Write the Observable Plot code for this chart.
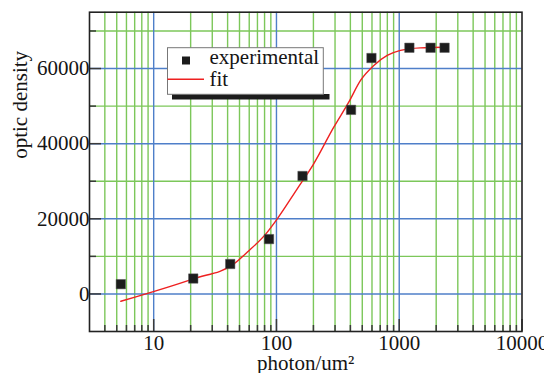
<!DOCTYPE html>
<html><head><meta charset="utf-8">
<script src="https://cdn.jsdelivr.net/npm/d3@7"></script>
<script src="https://cdn.jsdelivr.net/npm/@observablehq/plot@0.6"></script>
<style>
html,body{margin:0;padding:0;background:#fff;}
#chart svg{display:block;}
</style></head><body><div id="chart"></div>
<script>
// measured points (black squares)
const photon = [5.4, 21, 42, 87, 163, 405, 594, 1210, 1800, 2340];
const density = [2600, 4100, 7970, 14600, 31400, 49000, 62800, 65535, 65535, 65535];
// fit curve (red line)
const fitPhoton = [5.4, 21, 45, 58, 82, 101.5, 147.6, 201, 293, 388, 484, 621, 798, 1024, 1489, 2340];
const fitDensity = [-1940, 4020, 8000, 11160, 16000, 20000, 27990, 34650, 44390, 51050, 56830, 60820, 63490, 64820, 65500, 65650];
// axes
const xMajorTicks = [10, 100, 1000, 10000];
const xMinorTicks = [4,5,6,7,8,9, 20,30,40,50,60,70,80,90, 200,300,400,500,600,700,800,900, 2000,3000,4000,5000,6000,7000,8000,9000];
const yMajorTicks = [0, 20000, 40000, 60000];
const yMinorTicks = [10000, 30000, 50000, 70000];
const xDomain = [3, 10000];
const yDomain = [-10000, 75000];
const xLabel = "photon/um²";
const yLabel = "optic density";
const legendLabels = ["experimental", "fit"];

const green = "#7cc75a", blue = "#4f7fc9", tickCol = "#3a3a3a", ink = "#151515";
const serif = "Liberation Serif";
const points = photon.map((x, i) => ({x, y: density[i]}));
const fit = fitPhoton.map((x, i) => ({x, y: fitDensity[i]}));

const chart = Plot.plot({
  width: 544, height: 373,
  marginLeft: 89, marginRight: 22.5, marginTop: 11.7, marginBottom: 42,
  style: {fontFamily: serif, fontSize: "21px", background: "#fff", color: ink},
  x: {type: "log", domain: xDomain, axis: null},
  y: {domain: yDomain, axis: null},
  marks: [
    Plot.ruleX(xMinorTicks, {stroke: green, strokeWidth: 1.4}),
    Plot.ruleY(yMinorTicks, {stroke: green, strokeWidth: 1.4}),
    Plot.ruleX(xMajorTicks.slice(0, 3), {stroke: blue, strokeWidth: 1.4}),
    Plot.ruleY(yMajorTicks, {stroke: blue, strokeWidth: 1.4}),
    Plot.axisX(xMinorTicks, {tickSize: -6, stroke: tickCol, strokeWidth: 1.5, fill: "none", label: null}),
    Plot.axisX(xMajorTicks, {tickSize: -12, tickPadding: 16, stroke: tickCol, strokeWidth: 1.5, fill: ink, label: null, tickFormat: d => String(d)}),
    Plot.axisY(yMinorTicks, {tickSize: -7, stroke: tickCol, strokeWidth: 1.5, fill: "none", label: null}),
    Plot.axisY(yMajorTicks, {tickSize: -12, tickPadding: 12, stroke: tickCol, strokeWidth: 1.5, fill: ink, label: null, tickFormat: d => String(d)}),
    Plot.frame({stroke: "#222", strokeWidth: 1.6}),
    Plot.line(fit, {x: "x", y: "y", stroke: "#ee2020", strokeWidth: 1.4, curve: "monotone-x"}),
    Plot.dot(points, {x: "x", y: "y", symbol: "square", r: 5.3, fill: "#1c1c1c", stroke: "#555", strokeWidth: 0.5}),
    Plot.text([xLabel], {text: d => d, frameAnchor: "bottom", dy: 38, lineAnchor: "bottom", fill: ink}),
    Plot.text([yLabel], {text: d => d, frameAnchor: "left", dx: -69, dy: -13, rotate: -90, fill: ink})
  ]
});
document.getElementById("chart").appendChild(chart);

// legend
const svg = d3.select(chart);
const lg = svg.append("g").attr("fill", ink).attr("text-anchor", "start");
lg.append("rect").attr("x", 172).attr("y", 94).attr("width", 157.5).attr("height", 5.5).attr("fill", "#1c1c1c");
lg.append("rect").attr("x", 167.5).attr("y", 47.7).attr("width", 155.8).attr("height", 46.6).attr("fill", "#fff").attr("stroke", "#777").attr("stroke-width", 1);
lg.append("path").attr("d", d3.symbol(d3.symbolSquare, 64)()).attr("transform", "translate(186,60.5)").attr("fill", "#1c1c1c");
lg.append("line").attr("x1", 167.5).attr("x2", 204).attr("y1", 79.3).attr("y2", 79.3).attr("stroke", "#ee2020").attr("stroke-width", 1.4);
lg.append("text").attr("x", 209.5).attr("y", 64.3).attr("text-anchor", "start").text(legendLabels[0]);
lg.append("text").attr("x", 209.5).attr("y", 85.7).attr("text-anchor", "start").text(legendLabels[1]);

// drop Plot's scoped class/style and put the serif face on every text element
svg.selectAll("style").remove();
svg.attr("class", null).style("display", "block").style("font-family", serif).style("font-size", "21px");
svg.selectAll("g[font-size]").attr("font-size", null);
svg.selectAll("g[font-family]").attr("font-family", null);
svg.attr("font-family", serif);
svg.selectAll("text").attr("font-family", serif).attr("font-size", 21).each(function() {
  this.style.setProperty("font-family", serif, "important");
  this.style.setProperty("font-variant", "normal");
});
</script></body></html>
